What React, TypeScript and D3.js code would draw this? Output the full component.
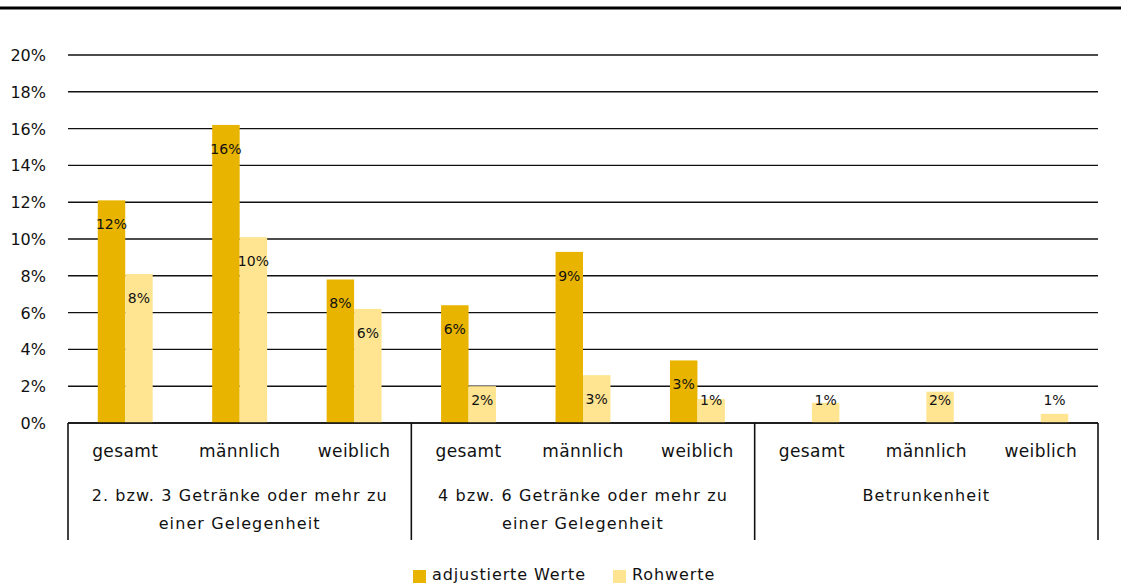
import React, { useEffect, useRef } from 'react';
import * as d3 from 'd3';

const groups = [
    ['2. bzw. 3 Getränke oder mehr zu', 'einer Gelegenheit'],
    ['4 bzw. 6 Getränke oder mehr zu', 'einer Gelegenheit'],
    ['Betrunkenheit'],
];
const subCategories = ['gesamt', 'männlich', 'weiblich'];
const seriesNames = ['adjustierte Werte', 'Rohwerte'];
const adjustiert = [12.1, 16.2, 7.8, 6.4, 9.3, 3.4, null, null, null];
const rohwerte = [8.1, 10.1, 6.2, 2.0, 2.6, 1.3, 1.1, 1.7, 0.5];
const yTicks = [0, 2, 4, 6, 8, 10, 12, 14, 16, 18, 20];
const colors = ['#E8B400', '#FFE591'];

const App = () => {
    const ref = useRef<SVGSVGElement>(null);

    useEffect(() => {
        const svg = d3.select(ref.current);
        svg.selectAll('*').remove();
        const font = '"DejaVu Sans", sans-serif';

        const left = 68, right = 1098, top = 55, bottom = 423;
        const keys = d3.range(9).map(String);
        const x = d3.scaleBand().domain(keys).range([left, right]);
        const y = d3.scaleLinear().domain([0, 20]).range([bottom, top]);
        const barW = x.bandwidth() * 0.24;

        // top rule
        svg.append('line').attr('x1', 0).attr('x2', 1121).attr('y1', 8).attr('y2', 8)
            .attr('stroke', '#000').attr('stroke-width', 3);

        // gridlines + y labels
        yTicks.forEach(t => {
            svg.append('line').attr('x1', left).attr('x2', right)
                .attr('y1', y(t)).attr('y2', y(t))
                .attr('stroke', '#111').attr('stroke-width', 1.4);
            svg.append('text').attr('x', 46).attr('y', y(t) + 6)
                .attr('text-anchor', 'end').attr('font-family', font).attr('font-size', 16)
                .attr('fill', '#111').text(`${t}%`);
        });

        // bars
        const series = [adjustiert, rohwerte];
        series.forEach((vals, s) => {
            vals.forEach((v, i) => {
                if (v == null) return;
                const cx = (x(String(i)) as number) + x.bandwidth() / 2;
                const bx = s === 0 ? cx - barW : cx;
                svg.append('rect').attr('x', bx).attr('y', y(v))
                    .attr('width', barW).attr('height', bottom - y(v))
                    .attr('fill', colors[s]);
            });
        });
        // gridline at 0 drawn above bars
        svg.append('line').attr('x1', left).attr('x2', right)
            .attr('y1', bottom).attr('y2', bottom).attr('stroke', '#111').attr('stroke-width', 1.6);

        // bar labels
        series.forEach((vals, s) => {
            vals.forEach((v, i) => {
                if (v == null) return;
                const cx = (x(String(i)) as number) + x.bandwidth() / 2;
                const bx = s === 0 ? cx - barW : cx;
                svg.append('text').attr('x', bx + barW / 2)
                    .attr('y', Math.min(y(v) + 29, 405))
                    .attr('text-anchor', 'middle').attr('font-family', font).attr('font-size', 14)
                    .attr('fill', '#111').text(`${Math.round(v)}%`);
            });
        });

        // category box
        const groupW = (right - left) / groups.length;
        d3.range(groups.length + 1).forEach(g => {
            svg.append('line').attr('x1', left + g * groupW).attr('x2', left + g * groupW)
                .attr('y1', bottom).attr('y2', 540).attr('stroke', '#111').attr('stroke-width', 1.6);
        });
        keys.forEach((k, i) => {
            svg.append('text').attr('x', (x(k) as number) + x.bandwidth() / 2).attr('y', 457)
                .attr('text-anchor', 'middle').attr('font-family', font).attr('font-size', 17)
                .attr('letter-spacing', 0.4)
                .attr('fill', '#111').text(subCategories[i % 3]);
        });
        groups.forEach((lines, g) => {
            lines.forEach((ln, j) => {
                svg.append('text').attr('x', left + g * groupW + groupW / 2).attr('y', 501 + j * 28)
                    .attr('text-anchor', 'middle').attr('font-family', font).attr('font-size', 16)
                    .attr('letter-spacing', 1.1)
                    .attr('fill', '#111').text(ln);
            });
        });

        // legend
        const legendX = [413, 613];
        seriesNames.forEach((name, s) => {
            svg.append('rect').attr('x', legendX[s]).attr('y', 570).attr('width', 13).attr('height', 13)
                .attr('fill', colors[s]);
            svg.append('text').attr('x', legendX[s] + 19).attr('y', 580)
                .attr('font-family', font).attr('font-size', 16).attr('letter-spacing', 0.9)
                .attr('fill', '#111').text(name);
        });
    }, []);

    return (
        <svg ref={ref} width={1121} height={584}
            style={{ position: 'absolute', left: 0, top: 0, background: '#fff' }} />
    );
};

export default App;
